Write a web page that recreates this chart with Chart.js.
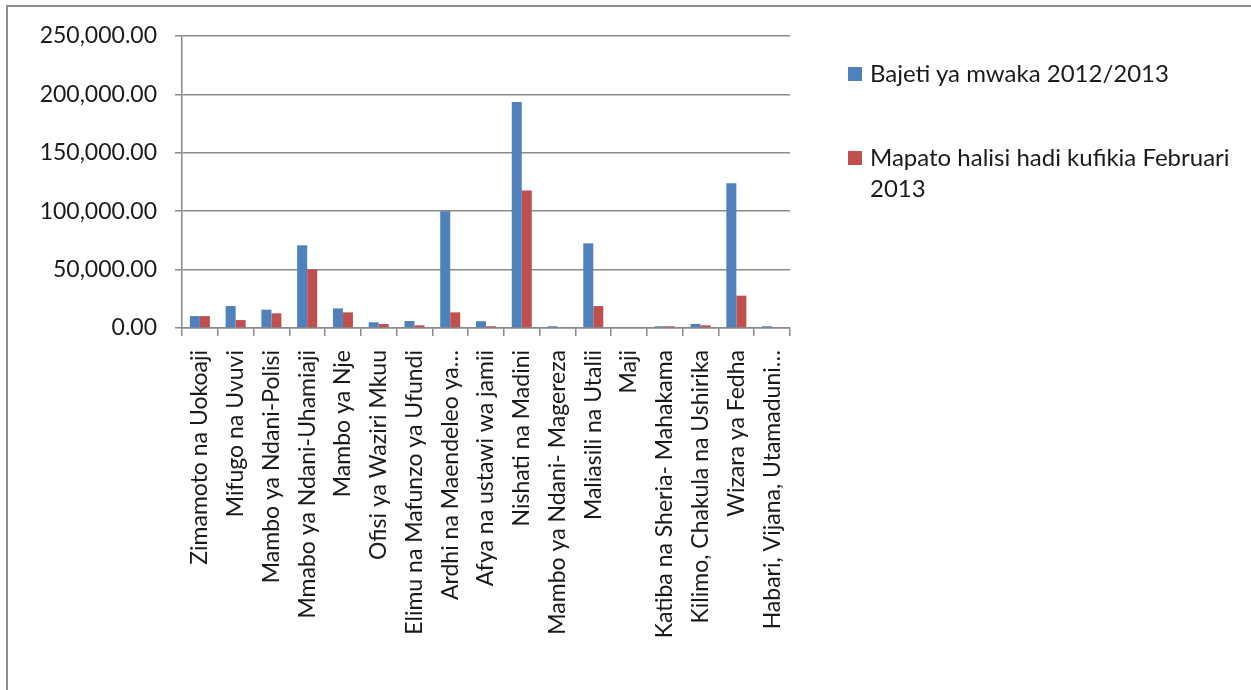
<!DOCTYPE html>
<html>
<head>
<meta charset="utf-8">
<script src="https://cdn.jsdelivr.net/npm/chart.js@4"></script>
<style>
  html, body { margin:0; padding:0; background:#fff; overflow:hidden; }
  #wrap { position:relative; width:1251px; height:690px; }
  #frame { position:absolute; left:6px; top:5px; width:2000px; height:2000px; border-top:2px solid #8e8e8e; border-left:2px solid #8e8e8e; box-sizing:border-box; }
  canvas { position:absolute; left:0; top:0; }
  .leg { position:absolute; font-family:Lato, sans-serif; font-size:24px; color:#1a1a1a; line-height:31px; }
  .sw { position:absolute; width:14px; height:14px; }
</style>
</head>
<body>
<div id="wrap">
  <div id="frame"></div>
  <canvas id="c" width="1251" height="690"></canvas>
  <div id="legend"></div>
</div>
<script>
const categories = [
  "Zimamoto na Uokoaji",
  "Mifugo na Uvuvi",
  "Mambo ya Ndani-Polisi",
  "Mmabo ya Ndani-Uhamiaji",
  "Mambo ya Nje",
  "Ofisi ya Waziri Mkuu",
  "Elimu na Mafunzo ya Ufundi",
  "Ardhi na Maendeleo ya…",
  "Afya na ustawi wa jamii",
  "Nishati na Madini",
  "Mambo ya Ndani- Magereza",
  "Maliasili na Utalii",
  "Maji",
  "Katiba na Sheria- Mahakama",
  "Kilimo, Chakula na Ushirika",
  "Wizara ya Fedha",
  "Habari, Vijana, Utamaduni…"
];
const seriesNames = ["Bajeti ya mwaka 2012/2013", ["Mapato halisi hadi kufikia Februari", "2013"]];
const bajeti = [10200, 18800, 15700, 70800, 16800, 4900, 6000, 100000, 5800, 193500, 1500, 72500, 0, 1500, 3500, 124000, 1500];
const mapato = [10200, 6800, 12600, 50200, 13400, 3400, 2300, 13400, 1500, 117800, 0, 18800, 0, 1500, 2300, 27700, 0];
const yTicks = [0, 50000, 100000, 150000, 200000, 250000];
const colors = ["#4f81bd", "#c0504d"];

const FONT = "Lato";
const gridColor = "#8a8a8a";

const chart = new Chart(document.getElementById('c'), {
  type: 'bar',
  data: {
    labels: categories,
    datasets: [
      { label: "Bajeti ya mwaka 2012/2013", data: bajeti, backgroundColor: colors[0], borderWidth: 0 },
      { label: "Mapato halisi hadi kufikia Februari 2013", data: mapato, backgroundColor: colors[1], borderWidth: 0 }
    ]
  },
  options: {
    responsive: false,
    animation: false,
    devicePixelRatio: 1,
    layout: { padding: { top: 36, right: 461, left: 0, bottom: 0 } },
    plugins: { legend: { display: false }, tooltip: { enabled: false } },
    datasets: { bar: { categoryPercentage: 0.56, barPercentage: 1.0 } },
    scales: {
      x: {
        offset: true,
        grid: { offset: true, drawOnChartArea: false, drawTicks: true, tickLength: 8, color: gridColor, lineWidth: 1.5 },
        border: { display: true, color: gridColor, width: 1.5 },
        ticks: {
          minRotation: 90, maxRotation: 90, autoSkip: false, padding: 14,
          color: '#1a1a1a', font: { family: FONT, size: 23 }
        },
        afterFit: (s) => { s.height = 362; }
      },
      y: {
        min: 0, max: 250000,
        afterBuildTicks: (s) => { s.ticks = yTicks.map(v => ({ value: v })); },
        grid: { color: gridColor, lineWidth: 1.5, tickLength: 7, drawTicks: true },
        border: { display: true, color: gridColor, width: 1.5 },
        ticks: {
          padding: 18, color: '#1a1a1a', font: { family: FONT, size: 23 },
          callback: (v) => Number(v).toLocaleString('en-US', { minimumFractionDigits: 2, maximumFractionDigits: 2 })
        },
        afterFit: (s) => { s.width = 182; }
      }
    }
  }
});

// HTML legend (real text)
const legend = document.getElementById('legend');
const legTops = [57, 141];
seriesNames.forEach((name, i) => {
  const sw = document.createElement('div');
  sw.className = 'sw';
  sw.style.left = '848px';
  sw.style.top = (legTops[i] + 10) + 'px';
  sw.style.background = colors[i];
  legend.appendChild(sw);
  const t = document.createElement('div');
  t.className = 'leg';
  t.style.left = '870px';
  t.style.top = legTops[i] + 'px';
  t.innerHTML = (Array.isArray(name) ? name : [name]).join('<br>');
  legend.appendChild(t);
});
</script>
</body>
</html>
